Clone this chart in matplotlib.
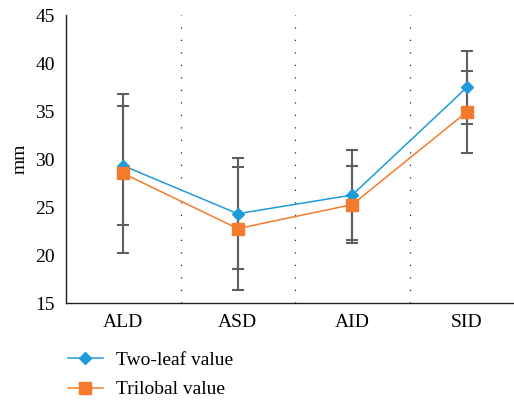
import matplotlib.pyplot as plt
import numpy as np

categories = ["ALD", "ASD", "AID", "SID"]
two_leaf = [29.3, 24.3, 26.25, 37.45]
two_leaf_err = [6.2, 5.8, 4.7, 3.85]
trilobal = [28.5, 22.75, 25.25, 34.9]
trilobal_err = [8.3, 6.4, 4.05, 4.25]

plt.rcParams["font.family"] = ["Liberation Serif", "DejaVu Serif"]

BLUE = "#1f9bd7"
ORANGE = "#f47b2b"
GREY = "#5f5f5f"

fig = plt.figure(figsize=(5.14, 4.04), dpi=100)
ax = fig.add_axes([66 / 514, 101 / 404, 448 / 514, 288 / 404])

x = np.arange(len(categories))

# error bars behind the markers
ax.errorbar(x, two_leaf, yerr=two_leaf_err, fmt="none", ecolor=GREY,
            elinewidth=1.5, capsize=4, capthick=1.5, zorder=2)
ax.errorbar(x, trilobal, yerr=trilobal_err, fmt="none", ecolor=GREY,
            elinewidth=1.5, capsize=4, capthick=1.5, zorder=2)

ax.plot(x, two_leaf, color=BLUE, lw=1.1, marker="D", ms=6, mec=BLUE,
        label="Two-leaf value", zorder=3)
ax.plot(x, trilobal, color=ORANGE, lw=1.1, marker="s", ms=8, mec=ORANGE,
        label="Trilobal value", zorder=4)

# dotted separators between groups
for xv in x[:-1] + 0.5:
    ax.axvline(xv, color="#222222", lw=0.9, linestyle=(0, (1, 9)), zorder=1)

ax.set_xlim(-0.5, -0.5 + 448 / 114.5)
ax.set_ylim(15, 45)
ax.set_yticks(range(15, 46, 5))
ax.set_xticks(x)
ax.set_xticklabels(categories)
ax.tick_params(length=0, labelsize=14, colors="black", pad=8)
ax.tick_params(axis="x", pad=8)
ax.set_ylabel("mm", fontsize=14, labelpad=5)

for s in ["top", "right"]:
    ax.spines[s].set_visible(False)
for s in ["left", "bottom"]:
    ax.spines[s].set_linewidth(1.0)
    ax.spines[s].set_color("#222222")

fig.legend(loc="upper left", bbox_to_anchor=(50 / 514, 1 - 334 / 404),
           frameon=False, fontsize=14, handlelength=1.8, labelspacing=0.6,
           handletextpad=0.7)

fig.savefig("out.png", dpi=100)
